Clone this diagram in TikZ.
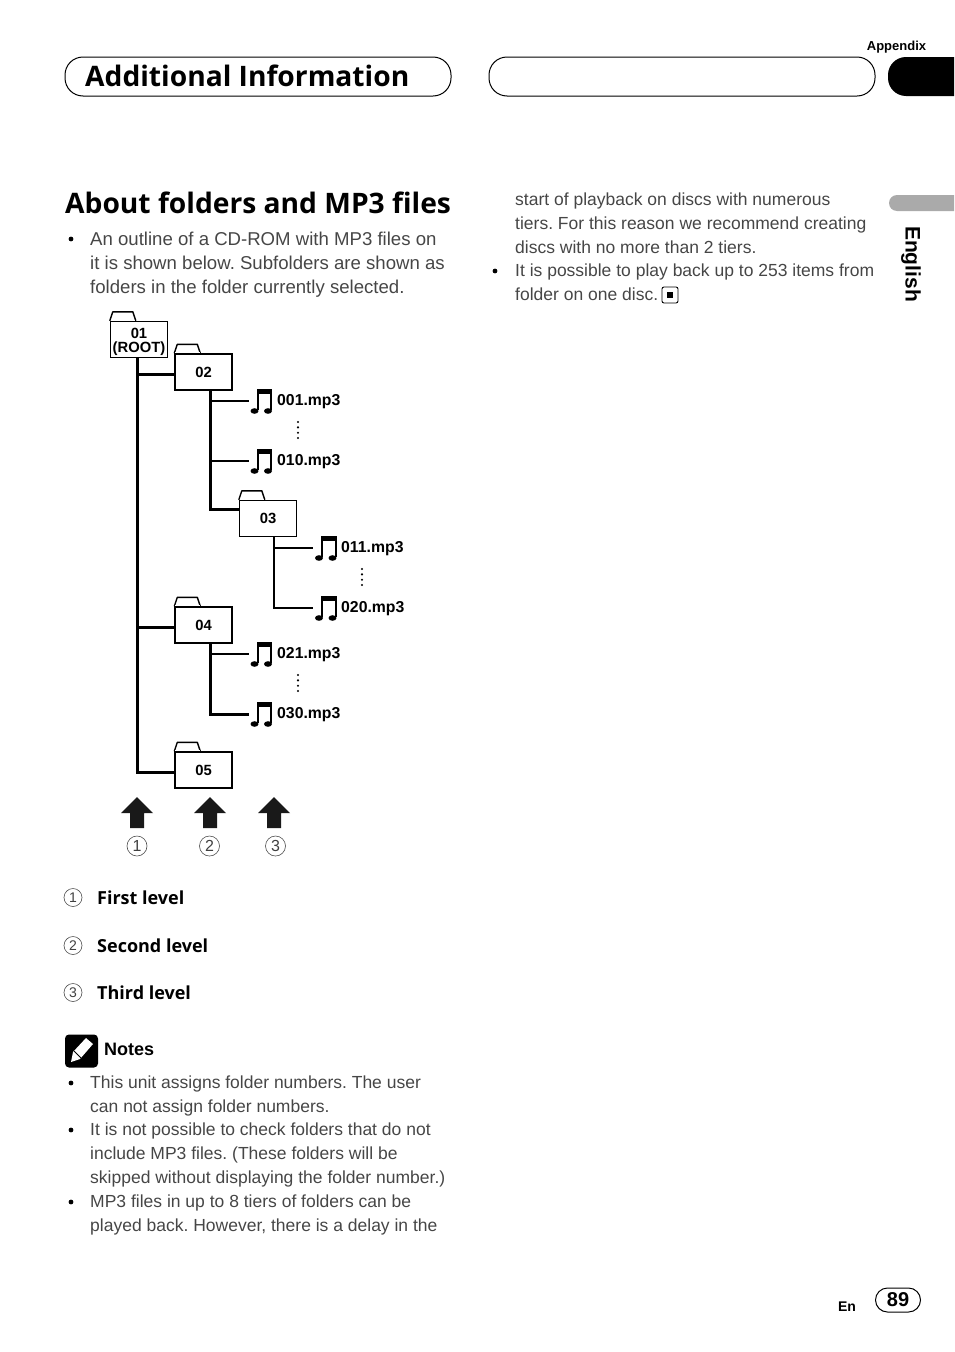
\documentclass[tikz,border=0pt]{standalone}
\usepackage{fontspec}
\setmainfont{Liberation Sans}
\newfontfamily\headfont{Open Sans}
\frenchspacing
\definecolor{bodygray}{RGB}{70,70,70}
\definecolor{tabgray}{RGB}{170,170,170}
\tikzset{
    pillbox/.style={draw, line width=1pt, rounded corners=18pt, minimum width=386pt, minimum height=39pt, inner sep=0pt},
    heading/.style={font=\headfont\bfseries\fontsize{28.2}{30}\selectfont, anchor=west, inner sep=0pt},
    bodytext/.style={font=\fontsize{17.5}{23.7}\selectfont, text=bodygray, anchor=north west, align=left, inner sep=0pt},
    introtext/.style={bodytext, font=\fontsize{18.6}{23.7}\selectfont},
    smallbold/.style={font=\bfseries\fontsize{13}{15}\selectfont, inner sep=0pt},
    levelname/.style={font=\headfont\bfseries\fontsize{18}{20}\selectfont, anchor=west, inner sep=0pt},
    folderbox/.style={draw, line width=1.4pt, fill=white, minimum width=57pt, minimum height=36pt, inner sep=0pt,
        font=\bfseries\fontsize{14.8}{14}\selectfont, align=center,
        append after command={\pgfextra{
            \draw[line width=1.4pt, line join=round] (\tikzlastnode.north west) -- ++(3,-9) -- ++(20,0) -- ++(3,9);
            \draw[white, line width=1.8pt] ([xshift=0.8pt]\tikzlastnode.north west) -- ++(24.6,0);}}},
    filename/.style={font=\bfseries\fontsize{15.8}{17}\selectfont, anchor=west, inner sep=0pt},
    noteicon/.style={minimum width=24pt, minimum height=27pt, inner sep=0pt,
        path picture={
            \begin{scope}[shift={(path picture bounding box.center)}]
                \fill (-4,-12.5) rectangle (11,-7.5);
                \draw[line width=1.8pt] (-3.2,-12) -- (-3.2,9);
                \draw[line width=1.8pt] (10.2,-12) -- (10.2,9);
                \fill[rotate around={-35:(-6.5,10)}] (-6.5,10) ellipse (4 and 2.8);
                \fill[rotate around={-35:(7,10)}] (7,10) ellipse (4 and 2.8);
            \end{scope}
        }},
    treeline/.style={line width=3pt},
    fileline/.style={line width=2.6pt},
    levelmark/.style={circle, draw=black!70, line width=0.6pt, inner sep=0pt, text=black!75, font=\fontsize{16}{16}\selectfont}
}
\begin{document}
\begin{tikzpicture}[x=1pt, y=-1pt]
    \useasboundingbox (0,0) rectangle (954,1352);

    % Header
    \node[smallbold] (appendix) at (896.5,47.5) {Appendix};
    \node[pillbox] (titlepill) at (258,76.5) {};
    \node[pillbox] (emptypill) at (682,76.5) {};
    \node[heading] (title) at (85,76) {Additional Information};
    \fill (954,57) [rounded corners=18pt] -- (888,57) -- (888,96) [sharp corners] -- (954,96) -- cycle;

    % Language tab
    \fill[tabgray] (954,195) [rounded corners=8pt] -- (889,195) -- (889,211) [sharp corners] -- (954,211) -- cycle;
    \node[font=\bfseries\fontsize{21}{23}\selectfont, rotate=-90, inner sep=0pt] (english) at (911,264) {English};

    % Left column text
    \node[heading] (about) at (65,203) {About folders and MP3 files};
    \node[introtext] (intro) at (90,232) {An outline of a CD-ROM with MP3 files on\\it is shown below. Subfolders are shown as\\folders in the folder currently selected.};

    % Folders
    \node[folderbox] (f01) at (139,339.5) {\rule{0pt}{15pt}01\\(ROOT)};
    \node[folderbox] (f02) at (203.5,372) {02};
    \node[folderbox] (f03) at (268,518.5) {03};
    \node[folderbox] (f04) at (203.5,625) {04};
    \node[folderbox] (f05) at (203.5,770) {05};

    % Files
    \node[noteicon] (n001) at (261,401) {};
    \node[filename] (t001) at (277,401.5) {001.mp3};
    \node[noteicon] (n010) at (261,461) {};
    \node[filename] (t010) at (277,461.5) {010.mp3};
    \node[noteicon] (n011) at (325.5,548) {};
    \node[filename] (t011) at (341,548.5) {011.mp3};
    \node[noteicon] (n020) at (325.5,608) {};
    \node[filename] (t020) at (341,608.5) {020.mp3};
    \node[noteicon] (n021) at (261,654) {};
    \node[filename] (t021) at (277,654.5) {021.mp3};
    \node[noteicon] (n030) at (261,714) {};
    \node[filename] (t030) at (277,714.5) {030.mp3};

    % Tree lines
    \coordinate (b01) at (137,357);
    \coordinate (b02) at (210,390);
    \coordinate (b03) at (274,536);
    \coordinate (b04) at (210,643);
    \draw[treeline] (b01) |- ([yshift=-2pt]f05.west);
    \draw[treeline] (b01) |- ([yshift=-2pt]f02.west);
    \draw[treeline] (b01) |- ([yshift=-2pt]f04.west);
    \draw[treeline] (b02) |- ([yshift=9.5pt]f03.west);
    \draw[fileline] (b02) |- (n001.west);
    \draw[fileline] (b02) |- (n010.west);
    \draw[fileline] (b03) |- (n020.west);
    \draw[fileline] (b03) |- (n011.west);
    \draw[treeline] (b04) |- (n030.west);
    \draw[fileline] (b04) |- (n021.west);

    % Dots between files
    \foreach \dx/\dy in {298/430, 362/577, 298/683} {
        \foreach \k in {-8,-2.7,2.7,8} {
            \fill (\dx,\dy+\k) circle (1.2);
        }
    }

    % Level arrows
    \foreach \ax in {137,210,274} {
        \fill[black!90] (\ax,797) -- (\ax+16,813) -- (\ax+7,813) -- (\ax+7,828) -- (\ax-7,828) -- (\ax-7,813) -- (\ax-16,813) -- cycle;
    }
    \node[levelmark, minimum size=20pt] (m1) at (137,846) {1};
    \node[levelmark, minimum size=20pt] (m2) at (209.5,846) {2};
    \node[levelmark, minimum size=20pt] (m3) at (275.5,846) {3};

    % Level legend
    \node[levelmark, minimum size=18pt, font=\fontsize{14}{14}\selectfont] (l1) at (73,897.5) {1};
    \node[levelmark, minimum size=18pt, font=\fontsize{14}{14}\selectfont] (l2) at (73,945.5) {2};
    \node[levelmark, minimum size=18pt, font=\fontsize{14}{14}\selectfont] (l3) at (73,992.5) {3};
    \node[levelname] (first) at (97,897.5) {First level};
    \node[levelname] (second) at (97,945.5) {Second level};
    \node[levelname] (third) at (97,992.5) {Third level};

    % Notes
    \node[fill=black, rounded corners=4pt, minimum size=33pt, inner sep=0pt] (notesicon) at (81.5,1051) {};
    \fill[white] (71,1062) -- (73,1052) -- (86,1038) -- (93,1044) -- (80,1059) -- cycle;
    \draw[black, line width=0.9pt] (74,1051) -- (81,1058);
    \node[levelname, font=\bfseries\fontsize{18}{20}\selectfont] (notes) at (104,1049) {Notes};
    \node[bodytext] (note1) at (90,1076) {This unit assigns folder numbers. The user\\can not assign folder numbers.};
    \node[bodytext] (note2) at (90,1123) {It is not possible to check folders that do not\\include MP3 files. (These folders will be\\skipped without displaying the folder number.)};
    \node[bodytext] (note3) at (90,1195) {MP3 files in up to 8 tiers of folders can be\\played back. However, there is a delay in the};

    % Right column text
    \node[bodytext] (cont) at (515,193) {start of playback on discs with numerous\\tiers. For this reason we recommend creating\\discs with no more than 2 tiers.};
    \node[bodytext] (tracks) at (515,264) {It is possible to play back up to 253 items from\\folder on one disc.};
    \node[draw, line width=0.9pt, rounded corners=2pt, minimum size=16pt, inner sep=0pt] (stopmark) at (670,295) {};
    \node[fill=black, minimum size=6pt, inner sep=0pt] (stopdot) at (stopmark.center) {};

    % Bullets
    \foreach \bx/\by in {71/239, 71/1083, 71/1130, 71/1202, 495/271} {
        \fill (\bx,\by) circle (2.4);
    }

    % Page number
    \node[smallbold, font=\bfseries\fontsize{14}{16}\selectfont] (lang) at (847,1306.5) {En};
    \node[draw, line width=1pt, rounded corners=12pt, minimum width=45pt, minimum height=24pt, inner sep=0pt, font=\bfseries\fontsize{20}{22}\selectfont] (pagenum) at (898,1300) {89};
\end{tikzpicture}
\end{document}
